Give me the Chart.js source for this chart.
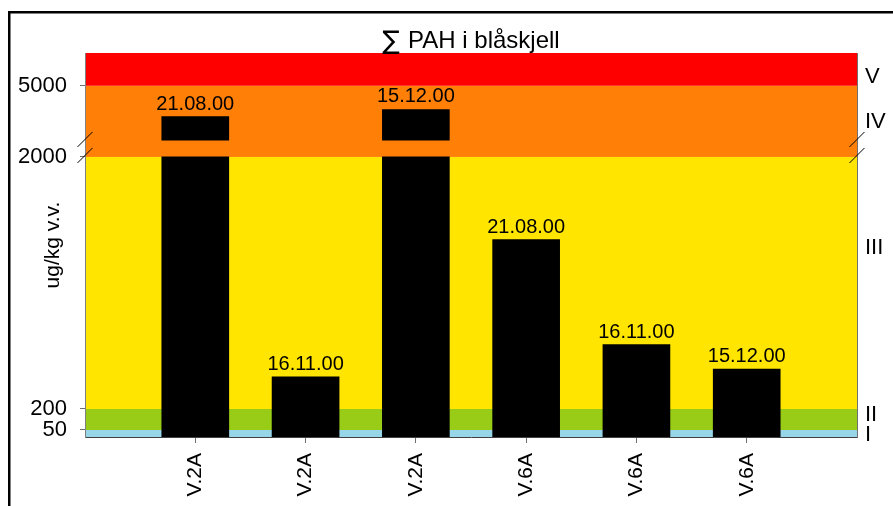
<!DOCTYPE html>
<html>
<head>
<meta charset="utf-8">
<script src="https://cdn.jsdelivr.net/npm/chart.js@4.4.0/dist/chart.umd.min.js"></script>
<style>
  body { margin: 0; background: #fff; }
  #wrap { width: 893px; height: 506px; }
</style>
</head>
<body>
<div id="wrap"><canvas id="pahChart" width="893" height="506"></canvas></div>
<script>
// stations and sampling dates (one bar each)
const stations = ['V.2A', 'V.2A', 'V.2A', 'V.6A', 'V.6A', 'V.6A'];
const sampleDates = ['21.08.00', '16.11.00', '15.12.00', '21.08.00', '16.11.00', '15.12.00'];
const pahValues = [3700, 430, 4000, 1410, 660, 485];   // ug/kg v.v.

const yTickValues = [50, 200, 2000, 5000];
const classLabels = ['I', 'II', 'III', 'IV', 'V'];
const classLabelAt = [12, 157, 1350, 3470, 5380];
const classLimits = [0, 50, 200, 2000, 5000, 6380];
const classColors = ['#97d6e8', '#99cc17', '#ffe500', '#ff7f07', '#ff0000'];

const chartTitle = 'PAH i blåskjell';

// broken axis: above 2000 the scale is squeezed
const BREAK_AT = 2000;
const SQUEEZE = 5.9;
const BREAK_GAP = 120;
const AXIS_TOP = classLimits[classLimits.length - 1];

function toAxis(v) {
    return v <= BREAK_AT ? v : BREAK_AT + (v - BREAK_AT) / SQUEEZE;
}

const FONT = '"Liberation Sans", Arial, sans-serif';
Chart.defaults.font.family = FONT;
Chart.defaults.color = '#000';

const brokenIdx = pahValues.map((v, i) => v > BREAK_AT ? i : -1).filter(i => i >= 0);

const lowerData = pahValues.map((v, i) => ({ x: i + 1, y: Math.min(v, BREAK_AT) }));
const upperData = brokenIdx.map(i => ({ x: i + 1, y: [BREAK_AT + BREAK_GAP, toAxis(pahValues[i])] }));

const backdrop = {
    id: 'backdrop',
    beforeDraw(chart) {
        const { ctx, chartArea } = chart;
        const y = chart.scales.y;
        ctx.save();
        ctx.fillStyle = '#fff';
        ctx.fillRect(0, 0, chart.width, chart.height);
        // outer frame (left and top edges only)
        ctx.fillStyle = '#000';
        ctx.fillRect(8, 11, 2.5, chart.height);
        ctx.fillRect(8, 11, chart.width, 2.5);
        // class bands
        for (let i = 0; i < classColors.length; i++) {
            const top = y.getPixelForValue(toAxis(classLimits[i + 1]));
            const bot = y.getPixelForValue(toAxis(classLimits[i]));
            ctx.fillStyle = classColors[i];
            ctx.fillRect(chartArea.left, top, chartArea.right - chartArea.left, bot - top);
        }
        // title, centred over the plot area
        const cx = (chartArea.left + chartArea.right) / 2;
        ctx.fillStyle = '#000';
        ctx.textBaseline = 'middle';
        ctx.font = '24px ' + FONT;
        const w1 = ctx.measureText(chartTitle).width;
        ctx.font = '26px "DejaVu Sans", ' + FONT;
        const sig = '\u2211 ';
        const w0 = ctx.measureText(sig).width;
        const x0 = cx - (w0 + w1) / 2;
        ctx.textAlign = 'left';
        ctx.fillText(sig, x0, 42);
        ctx.font = '24px ' + FONT;
        ctx.fillText(chartTitle, x0 + w0, 41);
        ctx.restore();
    },
    afterDatasetsDraw(chart) {
        const { ctx } = chart;
        const lowerMeta = chart.getDatasetMeta(0);
        const upperMeta = chart.getDatasetMeta(1);
        ctx.save();
        ctx.font = '20px ' + FONT;
        ctx.fillStyle = '#000';
        ctx.textAlign = 'center';
        ctx.textBaseline = 'alphabetic';
        sampleDates.forEach((d, i) => {
            const k = brokenIdx.indexOf(i);
            const bar = k >= 0 ? upperMeta.data[k] : lowerMeta.data[i];
            ctx.fillText(d, bar.x, bar.y - 7);
        });
        ctx.restore();
    },
    afterDraw(chart) {
        const { ctx, chartArea } = chart;
        const yb = chart.scales.y.getPixelForValue(BREAK_AT) - 1.5;
        ctx.save();
        ctx.strokeStyle = '#000';
        ctx.lineWidth = 1;
        [chartArea.left, chartArea.right].forEach(ax => {
            [yb, yb - 16].forEach(cy => {
                ctx.beginPath();
                ctx.moveTo(ax - 7.5, cy + 7.5);
                ctx.lineTo(ax + 7.5, cy - 7.5);
                ctx.stroke();
            });
        });
        ctx.restore();
    }
};

const ctx = document.getElementById('pahChart').getContext('2d');
const chart = new Chart(ctx, {
    type: 'bar',
    data: {
        datasets: [
            { data: lowerData, backgroundColor: '#000', borderWidth: 0, barThickness: 67, grouped: false },
            { data: upperData, backgroundColor: '#000', borderWidth: 0, barThickness: 67, grouped: false }
        ]
    },
    options: {
        responsive: false,
        animation: false,
        layout: { padding: { top: 53 } },
        plugins: {
            legend: { display: false },
            tooltip: { enabled: false },
            title: { display: false }
        },
        scales: {
            x: {
                type: 'linear',
                min: 0,
                max: stations.length + 1,
                offset: false,
                afterBuildTicks: s => { s.ticks = stations.map((_, i) => ({ value: i + 1 })); },
                ticks: {
                    autoSkip: false,
                    minRotation: 90,
                    maxRotation: 90,
                    padding: 10,
                    font: { size: 21 },
                    callback: (v, i) => stations[i]
                },
                grid: { drawOnChartArea: false, offset: false, tickLength: 6, color: '#707070' },
                border: { color: '#404040' },
                afterFit: s => { s.height = 69; }
            },
            y: {
                type: 'linear',
                position: 'left',
                min: 0,
                max: toAxis(AXIS_TOP),
                afterBuildTicks: s => { s.ticks = yTickValues.map(v => ({ value: toAxis(v) })); },
                ticks: {
                    autoSkip: false,
                    padding: 13,
                    font: { size: 22 },
                    callback: (v, i) => String(yTickValues[i])
                },
                grid: { drawOnChartArea: false, tickLength: 5, color: '#707070' },
                border: { color: '#808080' },
                title: {
                    display: true,
                    text: 'ug/kg v.v.',
                    color: '#000',
                    font: { size: 21 },
                    padding: { top: 41, bottom: 0 }
                },
                afterFit: s => { s.width = 85; }
            },
            yr: {
                type: 'linear',
                position: 'right',
                min: 0,
                max: toAxis(AXIS_TOP),
                afterBuildTicks: s => { s.ticks = classLabelAt.map(v => ({ value: toAxis(v) })); },
                ticks: {
                    autoSkip: false,
                    padding: 8,
                    font: { size: 22 },
                    callback: (v, i) => classLabels[i]
                },
                grid: { drawOnChartArea: false, drawTicks: false },
                border: { display: true, color: '#707070' },
                afterFit: s => { s.width = 36; }
            }
        }
    },
    plugins: [backdrop]
});
</script>
</body>
</html>
